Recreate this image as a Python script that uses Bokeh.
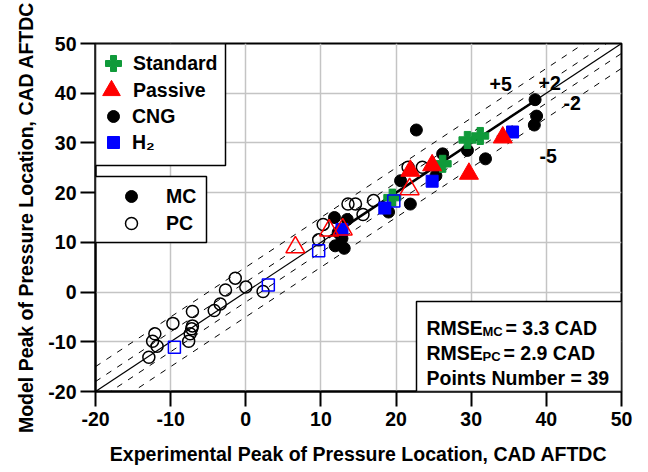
from bokeh.plotting import figure
from bokeh.models import Range1d, FixedTicker, Legend, LegendItem, BoxAnnotation, Label
from bokeh.embed import file_html
from bokeh.resources import INLINE

# ---------------- data ----------------
ticks = [-20, -10, 0, 10, 20, 30, 40, 50]

# CNG (circles)
mc_cng_x = [11.8, 13.5, 12.3, 12.8, 11.9, 13.1, 19.0, 20.6, 21.9, 22.7, 25.3, 26.2, 29.5, 31.9, 38.4, 38.7, 38.5]
mc_cng_y = [15.0, 14.6, 12.0, 10.8, 9.3, 8.8, 16.1, 22.4, 17.7, 32.6, 23.4, 27.8, 28.5, 26.8, 33.6, 35.4, 38.7]
pc_cng_x = [-12.9, -12.4, -12.1, -11.8, -9.7, -7.6, -7.4, -7.2, -7.1, -7.1, -4.2, -3.4, -2.7, -1.4, 0.0, 2.3,
            9.7, 10.3, 13.6, 14.6, 15.6, 17.0, 21.6, 23.5]
pc_cng_y = [-13.1, -9.9, -8.4, -10.9, -6.3, -9.9, -8.4, -7.4, -6.8, -3.9, -3.7, -2.4, 0.4, 2.8, 1.0, 0.1,
            10.5, 13.6, 17.7, 17.7, 15.6, 18.4, 25.1, 25.1]
# Standard (plus)
mc_std_x = [19.5, 26.2, 29.5, 31.2]
mc_std_y = [19.0, 25.8, 30.6, 31.4]
# Passive (triangles)
mc_pas_x = [21.9, 24.8, 29.7, 34.2]
mc_pas_y = [24.4, 25.5, 23.8, 31.1]
pc_pas_x = [6.6, 11.1, 12.9, 21.8]
pc_pas_y = [9.0, 12.4, 12.6, 20.7]
# H2 (squares)
mc_h2_x = [12.8, 18.5, 24.8, 35.5]
mc_h2_y = [12.6, 16.9, 22.3, 32.2]
pc_h2_x = [-9.5, 3.0, 9.7, 19.7]
pc_h2_y = [-11.1, 1.4, 8.3, 18.3]

# reference lines
ref_x = [-20, 50]
offsets_dashed = [5, 2, -2, -5]
fit_x = [11.0, 38.5]
fit_y = [11.0, 38.5]

# ---------------- style ----------------
FONT = "Liberation Sans"
FS = "19.5px"
GREEN = "#109a3a"
RED = "#ff0000"
BLUE = "#0000ff"

# frame geometry in pixels (for placing annotations)
FL, FR, FT, FB = 95, 621, 43, 391


def X(px):
    return -20 + (px - FL) * 70.0 / (FR - FL)


def Y(py):
    return 50 - (py - FT) * 70.0 / (FB - FT)


p = figure(width=648, height=472, x_range=Range1d(-20, 50), y_range=Range1d(-20, 50),
           output_backend="svg", toolbar_location=None,
           min_border_left=FL, min_border_right=648 - FR, min_border_top=FT, min_border_bottom=472 - FB)

p.background_fill_color = "white"
p.border_fill_color = "white"
p.outline_line_color = "black"
p.outline_line_width = 2

for ax in (p.xaxis[0], p.yaxis[0]):
    ax.ticker = FixedTicker(ticks=ticks)
    ax.major_label_overrides = {t: str(t) for t in ticks}
    ax.axis_line_width = 2
    ax.axis_line_color = "black"
    ax.major_tick_line_width = 2
    ax.major_tick_line_color = "black"
    ax.major_tick_out = 15
    ax.major_tick_in = 0
    ax.minor_tick_line_color = None
    ax.major_label_text_font = FONT
    ax.major_label_text_font_style = "bold"
    ax.major_label_text_font_size = FS
    ax.major_label_text_color = "black"
    ax.axis_label_text_font = FONT
    ax.axis_label_text_font_style = "bold"
    ax.axis_label_text_font_size = FS
    ax.axis_label_text_color = "black"

p.xaxis.axis_label = "Experimental Peak of Pressure Location, CAD AFTDC"
p.yaxis.axis_label = "Model Peak of Pressure Location, CAD AFTDC"
p.xaxis.major_label_standoff = 5
p.yaxis.major_label_standoff = 4
p.xaxis.axis_label_standoff = 14
p.yaxis.axis_label_standoff = 8

p.xgrid.ticker = FixedTicker(ticks=ticks)
p.ygrid.ticker = FixedTicker(ticks=ticks)
p.grid.grid_line_color = "#c4c4c4"
p.grid.grid_line_width = 1.5

# reference lines
p.line(ref_x, ref_x, line_color="black", line_width=1.2)
for off in offsets_dashed:
    p.line(ref_x, [v + off for v in ref_x], line_color="black", line_width=1, line_dash="6 7")
p.line(fit_x, fit_y, line_color="black", line_width=2.5)

# data
r_mc_cng = p.scatter(mc_cng_x, mc_cng_y, marker="circle", size=12, fill_color="black", line_color="black")
r_pc_cng = p.scatter(pc_cng_x, pc_cng_y, marker="circle", size=12, fill_alpha=0, line_color="black", line_width=1.5)
r_mc_std = p.scatter(mc_std_x, mc_std_y, marker="plus", size=17, fill_color=GREEN, line_color=GREEN)
r_mc_h2 = p.scatter(mc_h2_x, mc_h2_y, marker="square", size=12, fill_color=BLUE, line_color=BLUE)
r_mc_pas = p.scatter(mc_pas_x, mc_pas_y, marker="triangle", size=19, fill_color=RED, line_color=RED)
r_pc_pas = p.scatter(pc_pas_x, pc_pas_y, marker="triangle", size=19, fill_alpha=0, line_color=RED, line_width=1.5)
r_pc_h2 = p.scatter(pc_h2_x, pc_h2_y, marker="square", size=12, fill_alpha=0, line_color=BLUE, line_width=1.5)

# legend boxes
box1 = BoxAnnotation(left=X(95), right=X(225), top=Y(43.3), bottom=Y(165), fill_color="white", fill_alpha=1,
                     line_color="black", line_width=1.5, line_alpha=1)
box2 = BoxAnnotation(left=X(95), right=X(206), top=Y(176), bottom=Y(242), fill_color="white", fill_alpha=1,
                     line_color="black", line_width=1.5, line_alpha=1)
box3 = BoxAnnotation(left=X(416), right=50, top=Y(301), bottom=-20, fill_color="white", fill_alpha=1,
                     line_color="black", line_width=1.5, line_alpha=1)
for b in (box1, box2, box3):
    p.add_layout(b)


def mk_legend(label, renderer, left_px, center_py, glyph, standoff):
    loc = (int(round(left_px - FL)), int(round(FB - (center_py + glyph / 2.0))))
    return Legend(items=[LegendItem(label=label, renderers=[renderer])], location=loc,
                  glyph_width=glyph, glyph_height=glyph, spacing=0,
                  padding=0, margin=0, label_standoff=standoff, border_line_alpha=0,
                  background_fill_alpha=0, label_text_font=FONT, label_text_font_style="bold",
                  label_text_font_size=FS, label_text_color="black", label_height=20)


legends = [
    mk_legend("Standard", r_mc_std, 93, 63.3, 40, 0),
    mk_legend("Passive", r_mc_pas, 89, 90, 44, 0),
    mk_legend("CNG", r_mc_cng, 98, 115.8, 30, 4),
    mk_legend("H\u2082", r_mc_h2, 98, 142.5, 30, 4),
    mk_legend("MC", r_mc_cng, 116, 196, 30, 20),
    mk_legend("PC", r_pc_cng, 116, 222.7, 30, 20),
]
for lg in legends:
    p.add_layout(lg)


def lab(txt, px, py, size=FS):
    p.add_layout(Label(x=X(px), y=Y(py), text=txt, text_font=FONT, text_font_style="bold",
                       text_font_size=size, text_color="black", text_baseline="alphabetic",
                       text_align="left"))


# RMSE box texts
lab("RMSE", 426, 327.5)
lab("MC", 482, 331, "13px")
lab("= 3.3 CAD", 505, 327.5)
lab("RMSE", 426, 352.5)
lab("PC", 482, 356, "13px")
lab("= 2.9 CAD", 503, 352.5)
lab("Points Number = 39", 426, 377.3)

# band labels
lab("+5", 489, 83.3)
lab("+2", 538, 82)
lab("-2", 563, 102)
lab("-5", 539, 155)

open("out.html", "w").write(file_html(p, INLINE))
